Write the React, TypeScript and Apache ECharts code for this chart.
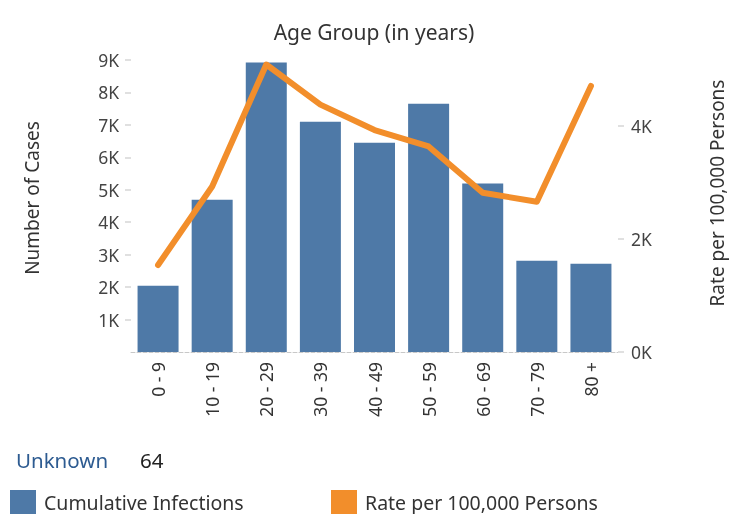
import React, { useEffect, useRef } from "react";
import * as echarts from "echarts";

const categories = ["0 - 9", "10 - 19", "20 - 29", "30 - 39", "40 - 49", "50 - 59", "60 - 69", "70 - 79", "80 +"];
const cumulativeInfections = [2040, 4690, 8920, 7100, 6450, 7650, 5190, 2810, 2720];
const ratePer100k = [1540, 2930, 5090, 4380, 3930, 3640, 2820, 2660, 4710];
const leftTicks = [1000, 2000, 3000, 4000, 5000, 6000, 7000, 8000, 9000];
const rightTicks = [0, 2000, 4000];
const unknownLabel = "Unknown";
const unknownValue = "64";

const FONT = "Noto Sans";

export default function App() {
  const ref = useRef<HTMLDivElement>(null);
  useEffect(() => {
    if (!ref.current) return;
    const chart = echarts.init(ref.current, undefined, { renderer: "svg" });
    const fmt = (v: number) => `${Math.round(v / 1000)}K`;
    chart.setOption({
      animation: false,
      textStyle: { fontFamily: FONT },
      title: {
        text: "Age Group (in years)",
        left: 374,
        textAlign: "center",
        top: 21,
        padding: 0,
        textStyle: { fontFamily: FONT, fontSize: 21, fontWeight: "normal", color: "#333" },
      },
      grid: { left: 131, right: 122, top: 60, bottom: 162 },
      legend: [
        {
          data: [{ name: "Cumulative Infections", icon: "rect" }],
          left: 10,
          top: 490,
          padding: 0,
          itemWidth: 26,
          itemHeight: 24,
          itemGap: 0,
          textStyle: { fontFamily: FONT, fontSize: 19.5, color: "#333", padding: [0, 0, 0, 3] },
        },
        {
          data: [{ name: "Rate per 100,000 Persons", icon: "rect" }],
          left: 331,
          top: 490,
          padding: 0,
          itemWidth: 26,
          itemHeight: 24,
          textStyle: { fontFamily: FONT, fontSize: 19.5, color: "#333", padding: [0, 0, 0, 3] },
        },
      ],
      xAxis: {
        type: "category",
        data: categories,
        axisLine: { show: true, lineStyle: { color: "#c8c8c8", type: "dashed", width: 1 } },
        axisTick: { show: false },
        axisLabel: {
          rotate: 90,
          margin: 10,
          fontFamily: FONT,
          fontSize: 17.5,
          color: "#333",
          interval: 0,
        },
      },
      yAxis: [
        {
          type: "value",
          min: 0,
          max: 9000,
          interval: 1000,
          splitLine: { show: false },
          axisLine: { show: false },
          axisTick: {
            show: true,
            length: 6,
            customValues: leftTicks,
            lineStyle: { color: "#e0e0e0", width: 2 },
          },
          axisLabel: {
            customValues: leftTicks,
            formatter: fmt,
            margin: 12,
            fontFamily: FONT,
            fontSize: 17.5,
            color: "#444",
          },
        },
        {
          type: "value",
          min: 0,
          max: 5170,
          interval: 2000,
          splitLine: { show: false },
          axisLine: { show: false },
          axisTick: {
            show: true,
            length: 6,
            customValues: rightTicks,
            lineStyle: { color: "#e0e0e0", width: 2 },
          },
          axisLabel: {
            customValues: rightTicks,
            formatter: fmt,
            margin: 13,
            fontFamily: FONT,
            fontSize: 17.5,
            color: "#444",
          },
        },
      ],
      series: [
        {
          name: "Cumulative Infections",
          type: "bar",
          data: cumulativeInfections,
          barWidth: 41,
          itemStyle: { color: "#4E79A7" },
          yAxisIndex: 0,
        },
        {
          name: "Rate per 100,000 Persons",
          type: "line",
          data: ratePer100k,
          yAxisIndex: 1,
          showSymbol: false,
          symbol: "none",
          itemStyle: { color: "#F28E2B" },
          lineStyle: { color: "#F28E2B", width: 6, cap: "round", join: "round" },
        },
      ],
      graphic: [
        {
          type: "text",
          x: 32,
          y: 198,
          rotation: Math.PI / 2,
          style: {
            text: "Number of Cases",
            fontFamily: FONT,
            fontSize: 19,
            fill: "#333",
            textAlign: "center",
            textVerticalAlign: "middle",
          },
        },
        {
          type: "text",
          x: 717,
          y: 193,
          rotation: Math.PI / 2,
          style: {
            text: "Rate per 100,000 Persons",
            fontFamily: FONT,
            fontSize: 19,
            fill: "#333",
            textAlign: "center",
            textVerticalAlign: "middle",
          },
        },
        {
          type: "text",
          x: 16,
          y: 460,
          style: {
            text: unknownLabel,
            fontFamily: FONT,
            fontSize: 20.5,
            fill: "#2d5b91",
            textAlign: "left",
            textVerticalAlign: "middle",
          },
        },
        {
          type: "text",
          x: 140,
          y: 460,
          style: {
            text: unknownValue,
            fontFamily: FONT,
            fontSize: 20.5,
            fill: "#222",
            textAlign: "left",
            textVerticalAlign: "middle",
          },
        },
      ],
    });
    return () => chart.dispose();
  }, []);
  return (
    <div
      ref={ref}
      style={{ position: "fixed", left: 0, top: 0, width: 740, height: 514 }}
    />
  );
}
